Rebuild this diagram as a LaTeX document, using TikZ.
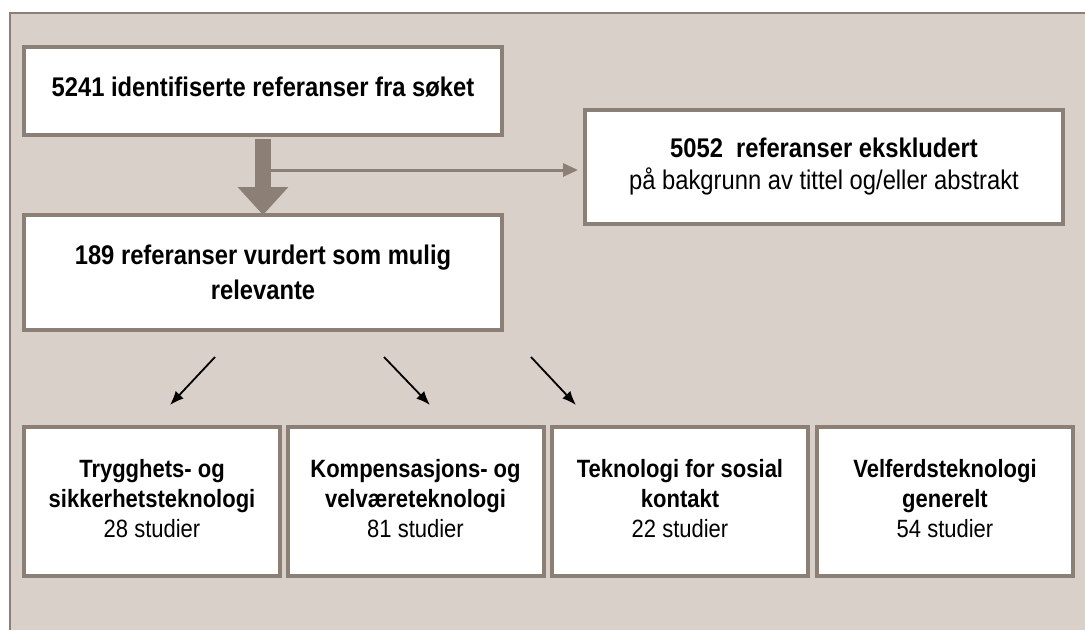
\documentclass[tikz,border=0pt]{standalone}
\usepackage{fontspec}
\setmainfont{Liberation Sans}[FakeStretch=0.88]
\usetikzlibrary{arrows.meta,calc}
\definecolor{bg}{HTML}{D8D0C9}
\definecolor{frm}{HTML}{8B7F76}
\tikzset{
  box/.style={draw=frm, line width=4pt, fill=white, align=center, inner sep=0pt, minimum width=478pt},
  cat/.style={draw=frm, line width=4pt, fill=white, align=center, inner sep=0pt, minimum width=256pt, minimum height=149pt, font=\fontsize{25}{30}\selectfont},
  thin/.style={draw=black, line width=1.8pt, -{Latex[length=14pt,width=11pt]}},
}
\begin{document}
\begin{tikzpicture}[x=1pt,y=-1pt]
\useasboundingbox (0,0) rectangle (1085,630);
\fill[white] (0,0) rectangle (1085,630);
\fill[bg] (10,13) rectangle (1085,630);
\draw[frm, line width=2pt] (10,630) -- (10,13) -- (1085,13);

\node[box, minimum height=88pt, font=\bfseries\fontsize{27}{33}\selectfont] (b1) at (263,91) {\raisebox{8pt}{5241 identifiserte referanser fra søket}};
\node[box, minimum height=115pt, font=\fontsize{27}{35}\selectfont] (b2) at (263,272.5) {\bfseries 189 referanser vurdert som mulig\\ \bfseries relevante};
\node[box, minimum height=114pt, font=\fontsize{27}{32}\selectfont] (b3) at (824,167) {\bfseries 5052\ \ referanser ekskludert\\ på bakgrunn av tittel og/eller abstrakt};

\node[cat] (c1) at (152,501.5) {\raisebox{6pt}{\begin{tabular}{@{}c@{}}\bfseries Trygghets- og\\ \bfseries sikkerhetsteknologi\\ 28 studier\end{tabular}}};
\node[cat] (c2) at (415.5,501.5) {\raisebox{6pt}{\begin{tabular}{@{}c@{}}\bfseries Kompensasjons- og\\ \bfseries velværeteknologi\\ 81 studier\end{tabular}}};
\node[cat] (c3) at (680,501.5) {\raisebox{6pt}{\begin{tabular}{@{}c@{}}\bfseries Teknologi for sosial\\ \bfseries kontakt\\ 22 studier\end{tabular}}};
\node[cat] (c4) at (945,501.5) {\raisebox{6pt}{\begin{tabular}{@{}c@{}}\bfseries Velferdsteknologi\\ \bfseries generelt\\ 54 studier\end{tabular}}};

% thick arrow
\coordinate (ta) at ($(b1.south)+(0,2)$);
\coordinate (tb) at ($(b2.north)+(0,2)$);
\draw[frm, line width=16pt, -{Triangle[length=28pt,width=49pt]}] (ta) -- (tb);
% side arrow
\coordinate (sa) at (264,170);
\draw[frm, line width=3pt, -{Triangle[length=15pt,width=13pt]}] (sa) -- ($(b3.west |- sa)+(-5,0)$);

% black arrows
\coordinate (s1) at (215,357); \coordinate (e1) at (170,405);
\coordinate (s2) at (384,357); \coordinate (e2) at (430,405);
\coordinate (s3) at (531,357); \coordinate (e3) at (576,405);
\draw[thin] (s1) -- (e1);
\draw[thin] (s2) -- (e2);
\draw[thin] (s3) -- (e3);
\end{tikzpicture}
\end{document}
